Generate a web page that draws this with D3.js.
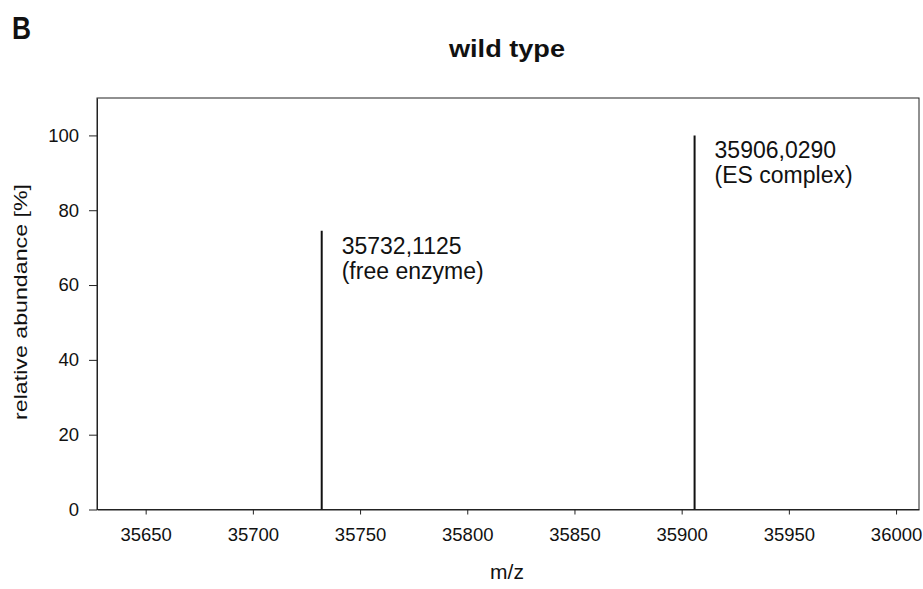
<!DOCTYPE html>
<html>
<head>
<meta charset="utf-8">
<script src="https://cdn.jsdelivr.net/npm/d3@7"></script>
<style>
  html, body { margin: 0; padding: 0; background: #fff; }
  svg text { font-family: "Liberation Sans", Arial, sans-serif; fill: #111; }
</style>
</head>
<body>
<svg id="chart" width="923" height="589"></svg>
<script>
// Deconvoluted mass spectrum, wild type: peak masses (Da) and relative abundances (%)
const peakMasses = [35732.1125, 35906.0290];
const peakAbundances = [74.5, 100];
const peakNames = ["(free enzyme)", "(ES complex)"];

const xTicks = [35650, 35700, 35750, 35800, 35850, 35900, 35950, 36000];
const yTicks = [0, 20, 40, 60, 80, 100];
const xDomain = [35627.3, 36010.7];
const yDomain = [0, 110];

const panelLetter = "B";
const title = "wild type";
const xLabel = "m/z";
const yLabel = "relative abundance [%]";

const svg = d3.select("#chart");
const box = { left: 97, right: 919, top: 98, bottom: 509.5 };

const x = d3.scaleLinear().domain(xDomain).range([box.left, box.right]);
const y = d3.scaleLinear().domain(yDomain).range([box.bottom, box.top]);

// frame
svg.append("rect")
  .attr("x", box.left).attr("y", box.top)
  .attr("width", box.right - box.left).attr("height", box.bottom - box.top)
  .attr("fill", "none").attr("stroke", "#222").attr("stroke-width", 1);

// axes
const xAxis = svg.append("g")
  .attr("transform", `translate(0,${box.bottom})`)
  .call(d3.axisBottom(x).tickValues(xTicks).tickSize(5).tickSizeOuter(0)
    .tickPadding(13).tickFormat(d3.format("d")));
const yAxis = svg.append("g")
  .attr("transform", `translate(${box.left},0)`)
  .call(d3.axisLeft(y).tickValues(yTicks).tickSize(8).tickSizeOuter(0)
    .tickPadding(10).tickFormat(d3.format("d")));

[xAxis, yAxis].forEach(g => {
  g.select(".domain").attr("stroke", "#222");
  g.selectAll(".tick line").attr("stroke", "#222");
  g.selectAll(".tick text")
    .attr("font-family", "Liberation Sans, Arial, sans-serif")
    .attr("font-size", 18.5).attr("fill", "#111");
});

// peaks as sticks
const peaks = peakMasses.map((m, i) => ({ mass: m, abundance: peakAbundances[i], name: peakNames[i] }));
svg.append("g").selectAll("line")
  .data(peaks).join("line")
  .attr("x1", d => x(d.mass)).attr("x2", d => x(d.mass))
  .attr("y1", y(0)).attr("y2", d => y(d.abundance))
  .attr("stroke", "#111").attr("stroke-width", 2);

// peak annotations: mass with decimal comma, then species
const massFmt = d => d3.format(".4f")(d).replace(".", ",");
const ann = svg.append("g").selectAll("text")
  .data(peaks).join("text")
  .attr("x", d => x(d.mass) + 20)
  .attr("y", d => y(d.abundance) + 23)
  .attr("font-size", 23);
ann.append("tspan").text(d => massFmt(d.mass));
ann.append("tspan").attr("x", d => x(d.mass) + 20).attr("dy", 25).text(d => d.name);

// titles and axis labels
svg.append("text")
  .attr("x", 12).attr("y", 39)
  .attr("font-family", "DejaVu Sans, sans-serif")
  .attr("font-weight", "bold").attr("font-size", 32)
  .attr("textLength", 19).attr("lengthAdjust", "spacingAndGlyphs")
  .text(panelLetter);

svg.append("text")
  .attr("x", 507).attr("y", 57)
  .attr("text-anchor", "middle")
  .attr("font-weight", "bold").attr("font-size", 23)
  .attr("textLength", 116).attr("lengthAdjust", "spacingAndGlyphs")
  .text(title);

svg.append("text")
  .attr("x", 507).attr("y", 579)
  .attr("text-anchor", "middle")
  .attr("font-size", 21)
  .text(xLabel);

svg.append("text")
  .attr("transform", `translate(27,302) rotate(-90)`)
  .attr("text-anchor", "middle")
  .attr("font-size", 19)
  .attr("textLength", 236).attr("lengthAdjust", "spacingAndGlyphs")
  .text(yLabel);
</script>
</body>
</html>
